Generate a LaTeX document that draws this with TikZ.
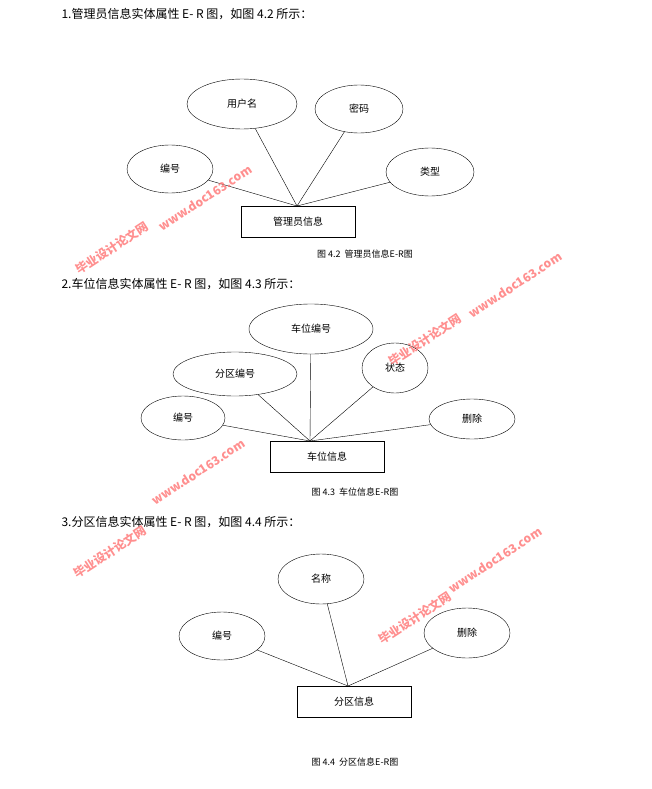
\documentclass[tikz,border=0pt]{standalone}
\usepackage{fontspec}
\setmainfont{Liberation Serif}
\newfontfamily\cjk{Noto Sans CJK SC}
\usetikzlibrary{shapes.geometric}
\begin{document}
\begin{tikzpicture}[x=1pt,y=-1pt,
  ent/.style={ellipse,draw,inner sep=0pt,font=\cjk\normalsize},
  rbox/.style={draw,inner sep=0pt,font=\cjk\normalsize,minimum width=114pt,minimum height=31pt},
  head/.style={anchor=west,font=\cjk\large},
  figcap/.style={font=\cjk\small},
  wm/.style={font=\cjk\bfseries\large,text=red!55,rotate=33,opacity=0.8}]
\useasboundingbox (0,0) rectangle (651,789);
% section 1
\node[head] (h1) at (58,14) {1.管理员信息实体属性 E- R 图，如图 4.2 所示：};
\node[rbox] (r1) at (298,222) {管理员信息};
\coordinate (c1) at (297,206);
\node[ent,minimum width=110pt,minimum height=50pt] (a1) at (242,104) {用户名};
\node[ent,minimum width=88pt,minimum height=48pt] (a2) at (359,109) {密码};
\node[ent,minimum width=86pt,minimum height=48pt] (a3) at (170,169) {编号};
\node[ent,minimum width=88pt,minimum height=48pt] (a4) at (430,172) {类型};
\foreach \n in {a1,a2,a3,a4} \draw (\n) -- (c1);
\node[figcap] (k1) at (365,254) {图 4.2 \ 管理员信息E-R图};
% section 2
\node[head] (h2) at (58,284) {2.车位信息实体属性 E- R 图，如图 4.3 所示：};
\node[rbox] (r2) at (327,457) {车位信息};
\coordinate (c2) at (310,441);
\node[ent,minimum width=124pt,minimum height=50pt] (b1) at (311,329) {车位编号};
\node[ent,minimum width=124pt,minimum height=44pt] (b2) at (235,374) {分区编号};
\node[ent,minimum width=66pt,minimum height=50pt] (b3) at (395,368) {状态};
\node[ent,minimum width=84pt,minimum height=44pt] (b4) at (183,418) {编号};
\node[ent,minimum width=86pt,minimum height=40pt] (b5) at (472,419) {删除};
\foreach \n in {b1,b2,b3,b4,b5} \draw (\n) -- (c2);
\node[figcap] (k2) at (355,492) {图 4.3 \ 车位信息E-R图};
% section 3
\node[head] (h3) at (58,522) {3.分区信息实体属性 E- R 图，如图 4.4 所示：};
\node[rbox] (r3) at (354,702) {分区信息};
\coordinate (c3) at (348,686);
\node[ent,minimum width=86pt,minimum height=50pt] (d1) at (321,579) {名称};
\node[ent,minimum width=86pt,minimum height=48pt] (d2) at (222,636) {编号};
\node[ent,minimum width=86pt,minimum height=50pt] (d3) at (467,633) {删除};
\foreach \n in {d1,d2,d3} \draw (\n) -- (c3);
\node[figcap] (k3) at (355,762) {图 4.4 \ 分区信息E-R图};
% watermarks
\node[wm] (w1) at (112,248) {毕业设计论文网};
\node[wm] (w2) at (205,198) {www.doc163.com};
\node[wm] (w3) at (425,340) {毕业设计论文网};
\node[wm] (w4) at (515,285) {www.doc163.com};
\node[wm] (w5) at (110,552) {毕业设计论文网};
\node[wm] (w6) at (198,472) {www.doc163.com};
\node[wm] (w7) at (415,618) {毕业设计论文网};
\node[wm] (w8) at (495,560) {www.doc163.com};
\end{tikzpicture}
\end{document}
